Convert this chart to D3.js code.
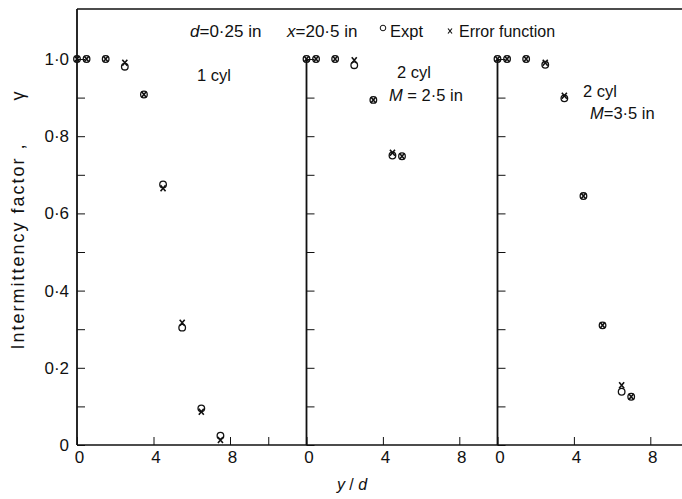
<!DOCTYPE html>
<html>
<head>
<meta charset="utf-8">
<script src="https://cdn.jsdelivr.net/npm/d3@7"></script>
<style>
  body { margin: 0; background: #fff; }
  svg { display: block; font-family: "Liberation Sans", Arial, sans-serif; }
  .tick text { font-family: "Liberation Sans", Arial, sans-serif; fill: #111; }
</style>
</head>
<body>
<svg id="chart" width="682" height="499"></svg>
<script>
// data: y/d positions and intermittency factor
var panels = ["1 cyl", "2 cyl M=2.5in", "2 cyl M=3.5in"];

var x1cyl = [0, 0.5, 1.5, 2.5, 3.5, 4.5, 5.5, 6.5, 7.5];
var expt1cyl = [1.0, 1.0, 1.0, 0.98, 0.908, 0.675, 0.304, 0.095, 0.024];
var erf1cyl = [1.0, 1.0, 1.0, 0.99, 0.908, 0.665, 0.317, 0.086, 0.013];

var xM25 = [0, 0.5, 1.5, 2.5, 3.5, 4.5, 5.0];
var exptM25 = [1.0, 1.0, 1.0, 0.984, 0.894, 0.75, 0.748];
var erfM25 = [1.0, 1.0, 1.0, 0.997, 0.894, 0.757, 0.748];

var xM35 = [0, 0.5, 1.5, 2.5, 3.5, 4.5, 5.5, 6.5, 7.0];
var exptM35 = [1.0, 1.0, 1.0, 0.985, 0.898, 0.645, 0.31, 0.138, 0.125];
var erfM35 = [1.0, 1.0, 1.0, 0.99, 0.905, 0.645, 0.31, 0.155, 0.125];

var yTicks = [0, 0.2, 0.4, 0.6, 0.8, 1.0];
var yTickLabels = ["0", "0·2", "0·4", "0·6", "0·8", "1·0"];
var yMinor = [0.1, 0.3, 0.5, 0.7, 0.9];

var svg = d3.select("#chart");
var ink = "#111";

var yTop = 9, yBot = 445;
var y = d3.scaleLinear().domain([0, 1]).range([445, 59]);

// one x scale per panel, same unit size
var xs = [
  d3.scaleLinear().domain([0, 12]).range([77, 306.5]),
  d3.scaleLinear().domain([0, 10]).range([306.5, 497.5]),
  d3.scaleLinear().domain([0, 10]).range([497.5, 688.5])
];
var xTickSets = [[0, 4, 8, 10], [0, 4, 8], [0, 4, 8]];

var series = [
  {x: x1cyl, expt: expt1cyl, erf: erf1cyl},
  {x: xM25, expt: exptM25, erf: erfM25},
  {x: xM35, expt: exptM35, erf: erfM35}
];

// frame: top line + bottom axis line
svg.append("line").attr("x1", 77).attr("x2", 682).attr("y1", yTop).attr("y2", yTop)
    .attr("stroke", ink).attr("stroke-width", 1.4);
svg.append("line").attr("x1", 77).attr("x2", 682).attr("y1", yBot).attr("y2", yBot)
    .attr("stroke", ink).attr("stroke-width", 1.6);

xs.forEach(function (x, i) {
  var x0 = x(0);
  // vertical axis of each panel
  svg.append("line")
      .attr("x1", x0).attr("x2", x0)
      .attr("y1", i === 0 ? yTop : y(1)).attr("y2", yBot)
      .attr("stroke", ink).attr("stroke-width", 1.8);

  //y ticks pointing inward, labels only on first panel
  var yAxis = d3.axisLeft(y)
      .tickValues(yTicks.concat(yMinor))
      .tickSizeInner(-8)
      .tickSizeOuter(0)
      .tickPadding(8)
      .tickFormat(function (d) {
        var k = yTicks.indexOf(d);
        return (i === 0 && k >= 0) ? yTickLabels[k] : "";
      });
  var gy = svg.append("g")
      .attr("transform", "translate(" + x0 + ",0)")
      .call(yAxis);
  gy.select(".domain").remove();
  gy.selectAll("line").attr("stroke", ink).attr("stroke-width", 1);
  gy.selectAll("text").style("font-size", "17px");

  //x ticks pointing up
  var xAxis = d3.axisBottom(x)
      .tickValues(xTickSets[i])
      .tickSizeInner(-8)
      .tickSizeOuter(0)
      .tickPadding(6)
      .tickFormat(function (d) { return d === 10 ? "" : d; });
  var gx = svg.append("g")
      .attr("transform", "translate(0," + yBot + ")")
      .call(xAxis);
  gx.select(".domain").remove();
  gx.selectAll("line").attr("stroke", ink).attr("stroke-width", 1);
  gx.selectAll("text").style("font-size", "17px").attr("dx", 2);

  // points
  var s = series[i];
  var pts = s.x.map(function (v, j) { return {x: v, e: s.expt[j], f: s.erf[j]}; });
  var g = svg.append("g");
  g.selectAll(".expt")
      .data(pts)
      .enter().append("circle")
      .attr("class", "expt")
      .attr("cx", function (d) { return x(d.x); })
      .attr("cy", function (d) { return y(d.e); })
      .attr("r", 3.3)
      .attr("fill", "none")
      .attr("stroke", ink)
      .attr("stroke-width", 1.3);
  g.selectAll(".erf")
      .data(pts)
      .enter().append("path")
      .attr("class", "erf")
      .attr("transform", function (d) { return "translate(" + x(d.x) + "," + y(d.f) + ")"; })
      .attr("d", "M-2.5,-3L2.5,3M2.5,-3L-2.5,3")
      .attr("stroke", ink)
      .attr("stroke-width", 1.6);
});

// legend line at the top
function txt(x, yy, size, parts) {
  var t = svg.append("text").attr("x", x).attr("y", yy).attr("fill", ink)
      .style("font-size", size + "px");
  parts.forEach(function (p) {
    t.append("tspan").style("font-style", p[1] ? "italic" : "normal").text(p[0]);
  });
  return t;
}
txt(190, 37, 17, [["d", true], ["=0·25 in", false]]);
txt(287, 37, 17, [["x", true], ["=20·5 in", false]]);

svg.append("circle").attr("cx", 383).attr("cy", 28).attr("r", 2.8)
    .attr("fill", "none").attr("stroke", ink).attr("stroke-width", 1);
txt(390, 37, 16.5, [["Expt", false]]);
svg.append("path").attr("transform", "translate(450,31)")
    .attr("d", "M-2,-2.5L2,2.5M2,-2.5L-2,2.5")
    .attr("stroke", ink).attr("stroke-width", 1.2);
txt(459, 37, 16, [["Error function", false]]);

// panel labels
txt(197, 81, 16.5, [["1 cyl", false]]);
txt(397, 78, 16.5, [["2 cyl", false]]);
txt(389, 101, 16.5, [["M", true], [" = 2·5 in", false]]);
txt(583, 97, 16.5, [["2 cyl", false]]);
txt(590, 119, 16.5, [["M", true], ["=3·5 in", false]]);

// axis titles
svg.append("text")
    .attr("text-anchor", "middle")
    .attr("transform", "translate(24,247)rotate(-90)")
    .attr("fill", ink)
    .style("font-size", "18px")
    .attr("textLength", 205)
    .attr("lengthAdjust", "spacing")
    .text("Intermittency factor ,");
svg.append("text")
    .attr("text-anchor", "middle")
    .attr("transform", "translate(24,96)rotate(-90)")
    .attr("fill", ink)
    .style("font-size", "18px")
    .text("γ");

var xt = txt(352, 490, 16, [["y", true], [" / ", false], ["d", true]]);
xt.attr("text-anchor", "middle");
</script>
</body>
</html>
